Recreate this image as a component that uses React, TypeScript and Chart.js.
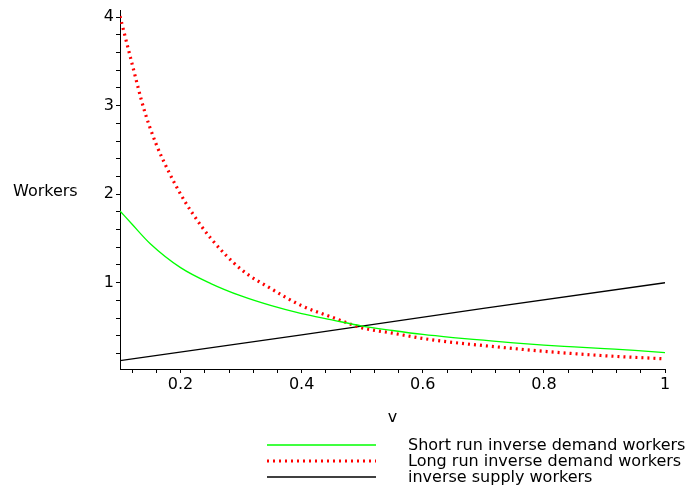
import React, { useEffect, useRef } from "react";
import { Chart, registerables } from "chart.js";

Chart.register(...registerables);

const xTitle = "v";
const yTitle = "Workers";

const seriesLabels = [
  "Short run inverse demand workers",
  "Long run inverse demand workers",
  "inverse supply workers",
];

const vShort = [0.1, 0.12, 0.15, 0.2, 0.25, 0.3, 0.35, 0.4, 0.45, 0.5, 0.55, 0.6, 0.65, 0.7, 0.75, 0.8, 0.85, 0.9, 0.95, 1.0];
const shortRun = [1.81, 1.66, 1.44, 1.17, 0.99, 0.85, 0.74, 0.65, 0.58, 0.51, 0.46, 0.415, 0.38, 0.35, 0.32, 0.295, 0.275, 0.255, 0.235, 0.21];

const vLong = [0.1, 0.12, 0.14, 0.16, 0.18, 0.2, 0.22, 0.25, 0.3, 0.35, 0.4, 0.45, 0.5, 0.55, 0.6, 0.65, 0.7, 0.8, 0.9, 1.0];
const longRun = [4.01, 3.47, 2.95, 2.56, 2.26, 2.0, 1.78, 1.5, 1.15, 0.93, 0.74, 0.61, 0.49, 0.43, 0.37, 0.325, 0.29, 0.225, 0.175, 0.14];

const vSupply = [0.1, 0.4, 0.7, 1.0];
const supply = [0.12, 0.41, 0.71, 1.0];

const xTicks = [0.12, 0.16, 0.2, 0.24, 0.28, 0.32, 0.36, 0.4, 0.44, 0.48, 0.52, 0.56, 0.6, 0.64, 0.68, 0.72, 0.76, 0.8, 0.84, 0.88, 0.92, 0.96, 1.0];
const xLabels = ["0.2", "0.4", "0.6", "0.8", "1"];
const yTicks = [0.2, 0.4, 0.6, 0.8, 1, 1.2, 1.4, 1.6, 1.8, 2, 2.2, 2.4, 2.6, 2.8, 3, 3.2, 3.4, 3.6, 3.8, 4];
const yLabels = ["1", "2", "3", "4"];

const pts = (xs: number[], ys: number[]) => xs.map((x, i) => ({ x, y: ys[i] }));

const FONT = '"DejaVu Sans", sans-serif';

const extrasPlugin = {
  id: "extras",
  afterDraw(chart: any) {
    const ctx = chart.ctx as CanvasRenderingContext2D;
    ctx.save();
    ctx.font = `16px ${FONT}`;
    ctx.fillStyle = "#000";
    ctx.textBaseline = "middle";
    ctx.textAlign = "left";
    ctx.fillText(yTitle, 13, 192);
    const xa = chart.scales.x;
    ctx.textAlign = "center";
    ctx.fillText(xTitle, (xa.left + xa.right) / 2, 418);
    const rows = [445, 461, 477];
    chart.data.datasets.forEach((ds: any, i: number) => {
      const y = rows[i];
      ctx.save();
      ctx.strokeStyle = ds.borderColor;
      ctx.lineWidth = ds.borderWidth;
      ctx.setLineDash(ds.borderDash || []);
      ctx.beginPath();
      ctx.moveTo(267, y);
      ctx.lineTo(376, y);
      ctx.stroke();
      ctx.restore();
      ctx.textAlign = "left";
      ctx.fillStyle = "#000";
      ctx.fillText(ds.label, 408, y + 1);
    });
    ctx.restore();
  },
};

export default function App() {
  const ref = useRef<HTMLCanvasElement | null>(null);
  useEffect(() => {
    if (!ref.current) return;
    const chart = new Chart(ref.current, {
      type: "line",
      data: {
        datasets: [
          {
            label: seriesLabels[0],
            data: pts(vShort, shortRun),
            borderColor: "#00ff00",
            borderWidth: 1.3,
            pointRadius: 0,
            cubicInterpolationMode: "monotone",
          },
          {
            label: seriesLabels[1],
            data: pts(vLong, longRun),
            borderColor: "#ff0000",
            borderWidth: 3.2,
            borderDash: [2, 4],
            pointRadius: 0,
            cubicInterpolationMode: "monotone",
          },
          {
            label: seriesLabels[2],
            data: pts(vSupply, supply),
            borderColor: "#000000",
            borderWidth: 1.4,
            pointRadius: 0,
          },
        ],
      },
      options: {
        animation: false,
        responsive: true,
        maintainAspectRatio: false,
        layout: { padding: { top: 10, right: 24, left: 0, bottom: 0 } },
        plugins: { legend: { display: false }, tooltip: { enabled: false } },
        scales: {
          x: {
            type: "linear",
            min: 0.1,
            max: 1.0,
            afterBuildTicks: (axis: any) => {
              axis.ticks = xTicks.map((v) => ({ value: v }));
            },
            afterFit: (s: any) => {
              s.height = 125;
              s.paddingLeft = 0;
              s.paddingRight = 0;
            },
            grid: { drawOnChartArea: false, drawTicks: true, tickLength: 4, color: "#000", tickWidth: 1 },
            border: { display: true, color: "#000", width: 1 },
            ticks: {
              autoSkip: false,
              maxRotation: 0,
              padding: 2,
              color: "#000",
              font: { family: FONT, size: 16 },
              callback: (val: any) => {
                const v = Number(val);
                const idx = Math.round(v * 5) - 1;
                return Math.abs(v * 5 - Math.round(v * 5)) < 1e-6 && idx >= 0 ? xLabels[idx] : "";
              },
            },
          },
          y: {
            type: "linear",
            min: 0.025,
            max: 4.08,
            afterBuildTicks: (axis: any) => {
              axis.ticks = yTicks.map((v) => ({ value: v }));
            },
            afterFit: (s: any) => {
              s.width = 120;
              s.paddingTop = 0;
              s.paddingBottom = 0;
            },
            grid: { drawOnChartArea: false, drawTicks: true, tickLength: 4, color: "#000", tickWidth: 1 },
            border: { display: true, color: "#000", width: 1 },
            ticks: {
              autoSkip: false,
              padding: 2,
              color: "#000",
              font: { family: FONT, size: 16 },
              callback: (val: any) => {
                const v = Number(val);
                const r = Math.round(v);
                return Math.abs(v - r) < 1e-6 && r >= 1 ? yLabels[r - 1] : "";
              },
            },
          },
        },
      },
      plugins: [extrasPlugin],
    } as any);
    return () => chart.destroy();
  }, []);
  return (
    <div style={{ position: "absolute", left: 0, top: 0, width: 689, height: 494, background: "#fff" }}>
      <canvas ref={ref} />
    </div>
  );
}
